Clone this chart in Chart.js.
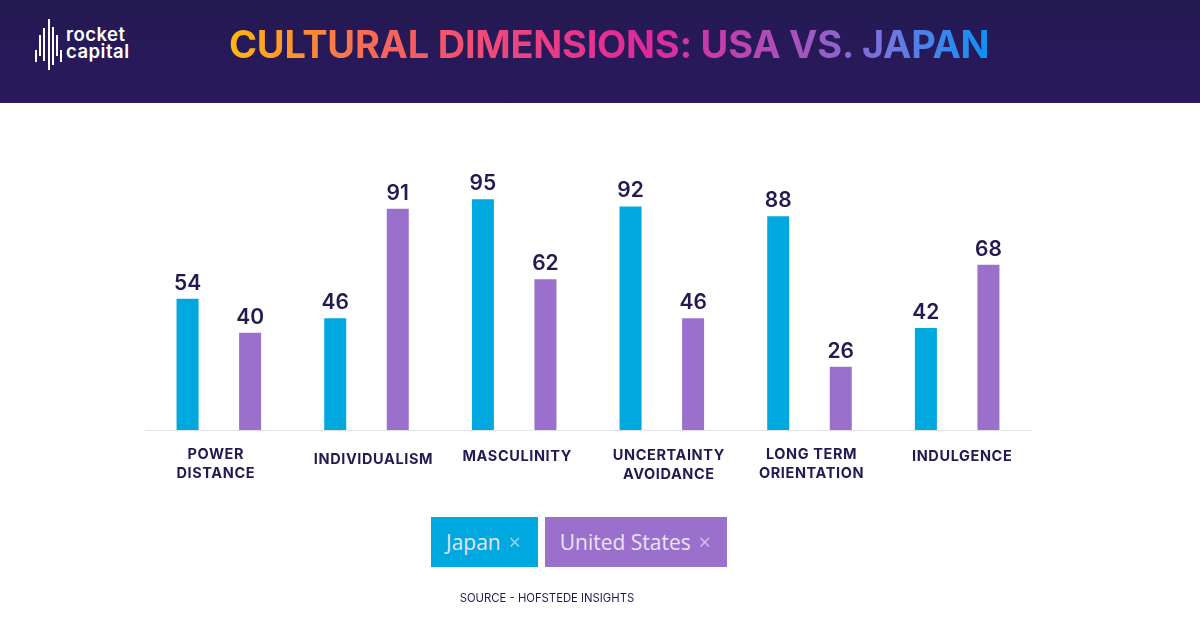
<!DOCTYPE html>
<html>
<head>
<meta charset="utf-8">
<script src="https://cdn.jsdelivr.net/npm/chart.js@4/dist/chart.umd.min.js"></script>
<style>
  html, body { margin: 0; padding: 0; background: #fff; }
  #page { position: relative; width: 1200px; height: 627px; overflow: hidden; font-family: Inter, sans-serif; }
  #header { position: absolute; left: 0; top: 0; width: 1200px; height: 103px; background: linear-gradient(180deg, #241a52, #2a195e); }
  #title {
    position: absolute; left: 229px; top: 20px; font-size: 38px; line-height: 48px; font-weight: 700; white-space: nowrap; letter-spacing: -0.25px;
    background: linear-gradient(90deg, #ffb810 0%, #f96a55 18%, #ef4a78 34%, #e0289c 55%, #a455bd 75%, #6f78e0 87%, #0a93f5 100%);
    -webkit-background-clip: text; background-clip: text; color: transparent;
  }
  #logo { position: absolute; left: 30px; top: 16px; }
  #brand { position: absolute; left: 66px; top: 26px; color: #fff; font-size: 18.5px; line-height: 17px; font-weight: 600; letter-spacing: 0.5px; }
  #chart { position: absolute; left: 0; top: 0; }
  #legend { position: absolute; left: 431px; top: 517px; display: flex; gap: 7px; }
  .chip { height: 50px; line-height: 50px; color: #e9e2f6; font-family: "Open Sans", sans-serif; font-size: 21px; box-sizing: border-box; white-space: nowrap; }
  .chip span { opacity: 0.7; margin-left: 8px; }
  #source { position: absolute; left: 347px; width: 400px; text-align: center; top: 591px; font-size: 11.3px; line-height: 15px; color: #241a52; }
</style>
</head>
<body>
<div id="page">
  <div id="header"></div>
  <svg id="logo" width="36" height="56" stroke="#fff" stroke-width="2"></svg>
  <div id="brand">rocket<br>capital</div>
  <div id="title">CULTURAL DIMENSIONS: USA VS. JAPAN</div>
  <canvas id="chart" width="1200" height="627"></canvas>
  <div id="legend"></div>
  <div id="source">SOURCE - HOFSTEDE INSIGHTS</div>
</div>
<script>
const categories = [
  ['POWER', 'DISTANCE'],
  ['INDIVIDUALISM'],
  ['MASCULINITY'],
  ['UNCERTAINTY', 'AVOIDANCE'],
  ['LONG TERM', 'ORIENTATION'],
  ['INDULGENCE'],
];
const japan = [54, 46, 95, 92, 88, 42];
const unitedStates = [40, 91, 62, 46, 26, 68];

const navy = '#241a52';
const blue = '#00a8e0';
const purple = '#9b70cc';

// the labels in the picture sit a little off the group centres
const labelShiftX = [-3, 7, 3, 7, 2, 5];
const labelTopY = [455, 460, 457, 456, 455, 457];

// rocket logo, just stripes
[[5, 50, 62], [9, 35, 56], [13, 28, 61], [18, 19, 70], [22, 27, 65], [26, 35, 56], [30, 50, 62]].forEach(([x, y1, y2]) => {
  const l = document.createElementNS('http://www.w3.org/2000/svg', 'line');
  l.setAttribute('x1', x + 1); l.setAttribute('x2', x + 1);
  l.setAttribute('y1', y1 - 16); l.setAttribute('y2', y2 - 16);
  document.getElementById('logo').appendChild(l);
});

const valueLabels = {
  id: 'valueLabels',
  afterDatasetsDraw(chart) {
    const ctx = chart.ctx;
    ctx.save();
    ctx.fillStyle = navy;
    ctx.font = '600 21px Inter';
    ctx.textAlign = 'center';
    ctx.textBaseline = 'bottom';
    chart.data.datasets.forEach((ds, i) => {
      chart.getDatasetMeta(i).data.forEach((bar, j) => {
        ctx.fillText(ds.data[j], bar.x, bar.y - 5);
      });
    });
    ctx.restore();
  },
};

const categoryLabels = {
  id: 'categoryLabels',
  afterDraw(chart) {
    const ctx = chart.ctx;
    const x = chart.scales.x;
    ctx.save();
    ctx.fillStyle = navy;
    ctx.font = '700 14.5px Inter';
    ctx.letterSpacing = '0.6px';
    ctx.textAlign = 'center';
    ctx.textBaseline = 'middle';
    categories.forEach((lines, i) => {
      lines.forEach((line, k) => {
        ctx.fillText(line, x.getPixelForTick(i) + labelShiftX[i], labelTopY[i] + k * 18.5);
      });
    });
    ctx.restore();
  },
};

const datasets = [
  { label: 'Japan', data: japan, backgroundColor: blue },
  { label: 'United States', data: unitedStates, backgroundColor: purple },
];

new Chart(document.getElementById('chart'), {
  type: 'bar',
  data: { labels: categories, datasets },
  options: {
    responsive: false,
    animation: false,
    devicePixelRatio: 1,
    categoryPercentage: 0.847,
    barPercentage: 0.352,
    layout: { padding: { left: 145, right: 169, top: 187, bottom: 189 } },
    plugins: { legend: { display: false }, tooltip: { enabled: false } },
    scales: {
      x: {
        grid: { display: false },
        border: { color: '#e2e2e6', width: 1 },
        ticks: { display: false },
      },
      y: { display: false, min: 0, max: 100 },
    },
  },
  plugins: [valueLabels, categoryLabels],
});

const chipPadding = [[15, 17], [15, 16]];
datasets.forEach((ds, i) => {
  const chip = document.createElement('div');
  chip.className = 'chip';
  chip.style.background = ds.backgroundColor;
  chip.style.padding = `0 ${chipPadding[i][1]}px 0 ${chipPadding[i][0]}px`;
  chip.innerHTML = ds.label + '<span>×</span>';
  document.getElementById('legend').appendChild(chip);
});
</script>
</body>
</html>
